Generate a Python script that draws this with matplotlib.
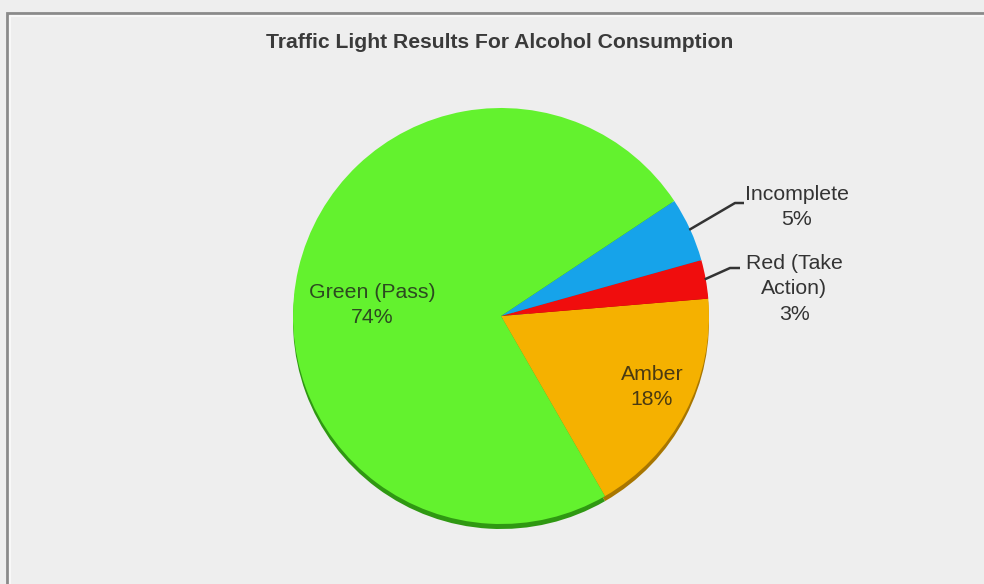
import matplotlib.pyplot as plt
import numpy as np

# slice data, counter-clockwise from the amber/green boundary
categories = ["Amber", "Red (Take\nAction)", "Incomplete", "Green (Pass)"]
values = [18, 3, 5, 74]
colors = ["#f5b100", "#f00d0d", "#16a3ea", "#63f22e"]
shadow = ["#a87600", "#9a0000", "#0b6a9c", "#2f9812"]
label_colors = ["#4a3a12", "#333333", "#333333", "#2c4a20"]

W, H = 984, 584
cx, cy, r = 501, H - 316, 208
start = -60

plt.rcParams['font.family'] = ['Liberation Sans', 'DejaVu Sans']

fig = plt.figure(figsize=(W / 100, H / 100), dpi=100, facecolor="#eeeeee")
ax = fig.add_axes([0, 0, 1, 1])
ax.set_facecolor("#eeeeee")

# darker copy underneath gives the slight 3D rim
ax.pie(values, colors=shadow, startangle=start, center=(cx, cy - 5), radius=r,
       wedgeprops=dict(linewidth=0))
wedges, _ = ax.pie(values, colors=colors, startangle=start, center=(cx, cy),
                   radius=r, wedgeprops=dict(linewidth=0))
ax.set_xlim(0, W)
ax.set_ylim(0, H)
ax.set_aspect('equal')
ax.axis('off')

def pct(v):
    return "%d%%" % round(100 * v / sum(values))

fs = 15.3
lsp = 1.45

# inside labels
ax.text(372, H - 305, "%s\n%s" % (categories[3], pct(values[3])), ha='center', va='center',
        fontsize=fs, color=label_colors[3], linespacing=lsp)
ax.text(652, H - 387, "%s\n%s" % (categories[0], pct(values[0])), ha='center', va='center',
        fontsize=fs, color=label_colors[0], linespacing=lsp)

# outside labels with leader lines
outside = [(2, 797, H - 207, 735, H - 203, 744), (1, 794, H - 289, 730, H - 268, 740)]
for i, tx, ty, ex, ey, ex2 in outside:
    w = wedges[i]
    mid = np.deg2rad((w.theta1 + w.theta2) / 2)
    px, py = cx + (r - 1) * np.cos(mid), cy + (r - 1) * np.sin(mid)
    ax.plot([px, ex, ex2], [py, ey, ey], color="#333333", lw=1.8, solid_capstyle='butt')
    ax.text(tx, ty, "%s\n%s" % (categories[i], pct(values[i])), ha='center', va='center',
            fontsize=fs, color=label_colors[i], linespacing=lsp)

ax.text(500, H - 42, "Traffic Light Results For Alcohol Consumption", ha='center', va='center',
        fontsize=15.2, fontweight='bold', color="#3a3a3a")

# frame line along top and left edge
ax.plot([7, 7, W], [0, H - 13, H - 13], color="#8a8a8a", lw=2, solid_joinstyle='miter')
ax.plot([10, 10, W], [0, H - 16, H - 16], color="#f8f8f8", lw=1.5)

fig.savefig("out.png", dpi=100, facecolor=fig.get_facecolor())
